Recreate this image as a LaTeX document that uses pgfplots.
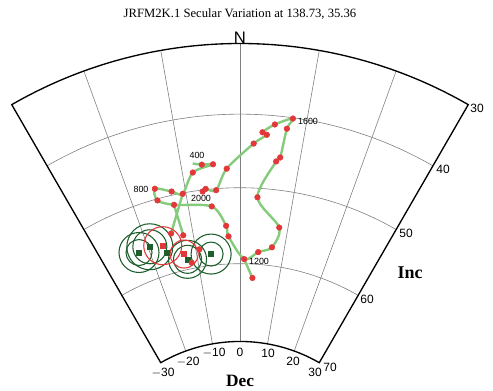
\documentclass[border=0pt]{standalone}
\usepackage{pgfplots}
\pgfplotsset{compat=1.18}
\usepackage{fontspec}
\setmainfont{Liberation Serif}
\newfontfamily\hv{Liberation Sans}
\definecolor{lgreen}{HTML}{84CC7C}
\definecolor{dred}{HTML}{E2383A}
\definecolor{dkgreen}{HTML}{1E5E2C}
\definecolor{gridgray}{HTML}{808080}
\pgfmathdeclarefunction{px}{2}{\pgfmathparse{913*sin((90-#2)/2)*sin(#1)}}
\pgfmathdeclarefunction{py}{2}{\pgfmathparse{913*sin((90-#2)/2)*cos(#1)}}
\begin{document}
\begin{tikzpicture}
\begin{axis}[x=0.75pt,y=0.75pt,xmin=-240,xmax=253,ymin=110,ymax=500,
  axis lines=none, clip=false]
\coordinate (bl) at (axis cs:-240,110);
\coordinate (tr) at (axis cs:253,500);
% grid
\draw[gridgray, line width=0.45pt] (axis cs:{px(-20,70)},{py(-20,70)}) -- (axis cs:{px(-20,30)},{py(-20,30)});
\draw[gridgray, line width=0.45pt] (axis cs:{px(-10,70)},{py(-10,70)}) -- (axis cs:{px(-10,30)},{py(-10,30)});
\draw[gridgray, line width=0.45pt] (axis cs:{px(0,70)},{py(0,70)}) -- (axis cs:{px(0,30)},{py(0,30)});
\draw[gridgray, line width=0.45pt] (axis cs:{px(10,70)},{py(10,70)}) -- (axis cs:{px(10,30)},{py(10,30)});
\draw[gridgray, line width=0.45pt] (axis cs:{px(20,70)},{py(20,70)}) -- (axis cs:{px(20,30)},{py(20,30)});
\draw[gridgray, line width=0.45pt] (axis cs:{px(-30,40)},{py(-30,40)}) arc[start angle=120,end angle=60,radius=289.39pt];
\draw[gridgray, line width=0.45pt] (axis cs:{px(-30,50)},{py(-30,50)}) arc[start angle=120,end angle=60,radius=234.2pt];
\draw[gridgray, line width=0.45pt] (axis cs:{px(-30,60)},{py(-30,60)}) arc[start angle=120,end angle=60,radius=177.22pt];
% frame
\draw[black, line width=1pt, line join=miter] (axis cs:{px(-30,70)},{py(-30,70)}) -- (axis cs:{px(-30,30)},{py(-30,30)})
  arc[start angle=120,end angle=60,radius=342.37pt] -- (axis cs:{px(30,70)},{py(30,70)})
  arc[start angle=60,end angle=120,radius=118.9pt] -- cycle;

% confidence circles (radius in px)
\addplot[scatter, only marks, mark=o, point meta=0,
  scatter/use mapped color={draw=dkgreen},
  mark options={line width=0.8pt},
  visualization depends on={0.75*\thisrow{r} \as \prad},
  scatter/@pre marker code/.append style={/tikz/mark size=\prad}]
  table[x expr={px(\thisrow{dec},\thisrow{inc})}, y expr={py(\thisrow{dec},\thisrow{inc})}] {
dec inc r
-22.2 55.95 13
-22.2 55.95 20
-19.6 55.75 17
-19.6 55.75 23
-12.3 58.69 14
-12.3 58.69 19
-6.7 58.52 12
-6.7 58.52 20
};
\addplot[scatter, only marks, mark=o, point meta=0,
  scatter/use mapped color={draw=dred},
  mark options={line width=0.8pt},
  visualization depends on={0.75*\thisrow{r} \as \prad},
  scatter/@pre marker code/.append style={/tikz/mark size=\prad}]
  table[x expr={px(\thisrow{dec},\thisrow{inc})}, y expr={py(\thisrow{dec},\thisrow{inc})}] {
dec inc r
-16.9 56.15 19
-12.8 57.92 14
};
% data squares
\addplot[only marks, mark=square*, mark size=1.9pt, color=dkgreen]
  table[x expr={px(\thisrow{dec},\thisrow{inc})}, y expr={py(\thisrow{dec},\thisrow{inc})}] {
dec inc
-22.2 55.95
-19.6 55.75
-16.5 57.12
-12.3 58.69
-6.7 58.52
};
\addplot[only marks, mark=square*, mark size=1.9pt, color=dred]
  table[x expr={px(\thisrow{dec},\thisrow{inc})}, y expr={py(\thisrow{dec},\thisrow{inc})}] {
dec inc
-16.9 56.15
-12.8 57.92
};

% secular variation curve
\addplot[lgreen, line width=1.8pt, smooth, tension=0.5, no marks]
  table[x expr={px(\thisrow{dec},\thisrow{inc})}, y expr={py(\thisrow{dec},\thisrow{inc})}] {
dec inc
-8.0 46.3
-6.5 46.6
-4.6 46.7
-8.2 47.5
-10.6 50.1
-12.5 49.5
-15.3 48.6
-15.4 50.2
-12.6 51.3
-5.5 52.3
-2.9 55.0
-2.5 56.4
1.0 59.4
4.2 58.4
7.2 57.6
8.2 54.9
3.3 51.2
6.1 46.2
6.7 45.6
7.2 41.6
7.9 40.1
5.3 41.2
3.5 42.4
4.2 42.7
2.2 44.0
-2.3 47.4
-4.4 50.2
-6.3 49.9
-6.9 50.2
};
\addplot[lgreen, line width=1.8pt, no marks]
  table[x expr={px(\thisrow{dec},\thisrow{inc})}, y expr={py(\thisrow{dec},\thisrow{inc})}] {
dec inc
1.0 59.4
3.2 61.8
};
\addplot[lgreen, line width=1.8pt, smooth, no marks]
  table[x expr={px(\thisrow{dec},\thisrow{inc})}, y expr={py(\thisrow{dec},\thisrow{inc})}] {
dec inc
-10.6 50.1
-14.5 54.9
};
\addplot[lgreen, line width=1.8pt, smooth, no marks]
  table[x expr={px(\thisrow{dec},\thisrow{inc})}, y expr={py(\thisrow{dec},\thisrow{inc})}] {
dec inc
-12.6 51.3
-12.1 55.5
};
% red points
\addplot[only marks, mark=*, mark size=2.1pt, color=dred]
  table[x expr={px(\thisrow{dec},\thisrow{inc})}, y expr={py(\thisrow{dec},\thisrow{inc})}] {
dec inc
-6.5 46.6
-4.6 46.7
-8.2 47.5
-10.6 50.1
-12.5 49.5
-15.3 48.6
-15.4 50.2
-12.6 51.3
-5.5 52.3
-2.9 55.0
-2.5 56.4
1.0 59.4
4.2 58.4
7.2 57.6
8.2 54.9
3.3 51.2
6.1 46.2
6.7 45.6
7.2 41.6
7.9 40.1
5.3 41.2
3.5 42.4
4.2 42.7
2.2 44.0
-2.3 47.4
-4.4 50.2
-6.3 49.9
-6.9 50.2
3.2 61.8
-14.5 54.9
-12.1 55.5
-11.5 59.24
-9.2 57.70
};

% labels
\node[font=\fontsize{9.5}{11}\selectfont] at (axis cs:0,486) {JRFM2K.1 Secular Variation at 138.73, 35.36};
\node[font=\hv\fontsize{12.5}{14}\selectfont] at (axis cs:0,462.5) {N};
\node[font=\hv\fontsize{9}{10}\selectfont] at (axis cs:237,392) {30};
\node[font=\hv\fontsize{9}{10}\selectfont] at (axis cs:203,331) {40};
\node[font=\hv\fontsize{9}{10}\selectfont] at (axis cs:166,267) {50};
\node[font=\hv\fontsize{9}{10}\selectfont] at (axis cs:127,201) {60};
\node[font=\hv\fontsize{9}{10}\selectfont] at (axis cs:90,133) {70};
\node[font=\bfseries\fontsize{13.5}{15}\selectfont] at (axis cs:170,227) {Inc};
\node[font=\hv\fontsize{9}{10}\selectfont] at (axis cs:-77,127) {$-$30};
\node[font=\hv\fontsize{9}{10}\selectfont] at (axis cs:-52,138) {$-$20};
\node[font=\hv\fontsize{9}{10}\selectfont] at (axis cs:-26,147) {$-$10};
\node[font=\hv\fontsize{9}{10}\selectfont] at (axis cs:0,148) {0};
\node[font=\hv\fontsize{9}{10}\selectfont] at (axis cs:28,147) {10};
\node[font=\hv\fontsize{9}{10}\selectfont] at (axis cs:53,139) {20};
\node[font=\hv\fontsize{9}{10}\selectfont] at (axis cs:75,128) {30};
\node[font=\bfseries\fontsize{13}{15}\selectfont] at (axis cs:0,119) {Dec};
\node[font=\hv\fontsize{6.7}{8}\selectfont] at (axis cs:68,379) {1600};
\node[font=\hv\fontsize{6.7}{8}\selectfont] at (axis cs:-43,345) {400};
\node[font=\hv\fontsize{6.7}{8}\selectfont] at (axis cs:-99,311) {800};
\node[font=\hv\fontsize{6.7}{8}\selectfont] at (axis cs:-39,302) {2000};
\node[font=\hv\fontsize{6.7}{8}\selectfont] at (axis cs:19,239) {1200};
\end{axis}
\pgfresetboundingbox
\path[use as bounding box] (bl) rectangle (tr);
\end{tikzpicture}
\end{document}
